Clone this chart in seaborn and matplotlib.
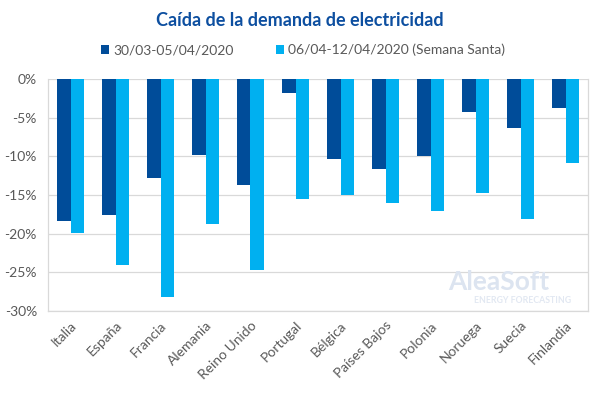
import pandas as pd
import numpy as np
import seaborn as sns
from matplotlib import pyplot as plt
from matplotlib.ticker import FuncFormatter
from matplotlib.patches import Patch

## DATA ##
paises = ["Italia", "España", "Francia", "Alemania", "Reino Unido", "Portugal",
          "Bélgica", "Países Bajos", "Polonia", "Noruega", "Suecia", "Finlandia"]
semana_1 = [-18.3, -17.6, -12.8, -9.8, -13.75, -1.8, -10.3, -11.7, -9.9, -4.3, -6.3, -3.7]
semana_santa = [-19.9, -24.1, -28.2, -18.8, -24.7, -15.5, -15.0, -16.0, -17.1, -14.8, -18.1, -10.9]
series = ["30/03-05/04/2020", "06/04-12/04/2020 (Semana Santa)"]
colores = ["#004C99", "#00B0F0"]

df = pd.DataFrame({"pais": paises * 2,
                   "valor": semana_1 + semana_santa,
                   "serie": [series[0]] * len(paises) + [series[1]] * len(paises)})

sns.set_theme(style="white")
plt.rcParams['font.family'] = ['Lato', 'DejaVu Sans']

fig = plt.figure(figsize=(6, 3.99), dpi=100)
ax = fig.add_axes([0.08, 0.2206, 0.90, 0.5814])

sns.barplot(data=df, x="pais", y="valor", hue="serie", palette=colores,
            saturation=1, width=0.58, gap=0, linewidth=0,
            legend=False, ax=ax, zorder=3)

ax.set_ylim(-30, 0)
ax.set_yticks(np.arange(-30, 1, 5))
ax.yaxis.set_major_formatter(FuncFormatter(lambda v, p: f"{v:.0f}%"))
ax.grid(axis="y", color="#D9D9D9", linewidth=0.9, zorder=0)
ax.set_xlabel("")
ax.set_ylabel("")
for s in ax.spines.values():
    s.set_color("#D9D9D9")
    s.set_linewidth(0.9)
ax.spines["top"].set_visible(False)

ax.tick_params(axis="y", colors="#595959", labelsize=10, length=0, pad=8)
ax.tick_params(axis="x", colors="#595959", labelsize=10, length=0, pad=6)
plt.setp(ax.get_xticklabels(), rotation=45, ha="right", rotation_mode="anchor")

# watermark
ax.text(0.835, 0.125, "AleaSoft", transform=ax.transAxes, ha="center", va="center",
        fontsize=19, fontweight="bold", color="#DCE4F0", zorder=1)
ax.text(0.878, 0.045, "ENERGY FORECASTING", transform=ax.transAxes, ha="center", va="center",
        fontsize=6.3, fontweight="bold", color="#E2E8F2", zorder=1)

fig.text(0.5, 0.948, "Caída de la demanda de electricidad", ha="center", va="center",
         fontsize=13, fontweight="bold", color="#0D4FA0")

handles = [Patch(facecolor=c, edgecolor="none") for c in colores]
fig.legend(handles, series, loc="center", bbox_to_anchor=(0.505, 0.875), ncol=2,
           frameon=False, handlelength=0.6, handleheight=0.6, handletextpad=0.3,
           columnspacing=3.0, fontsize=10, labelcolor="#595959")

fig.savefig("out.png", dpi=100)
